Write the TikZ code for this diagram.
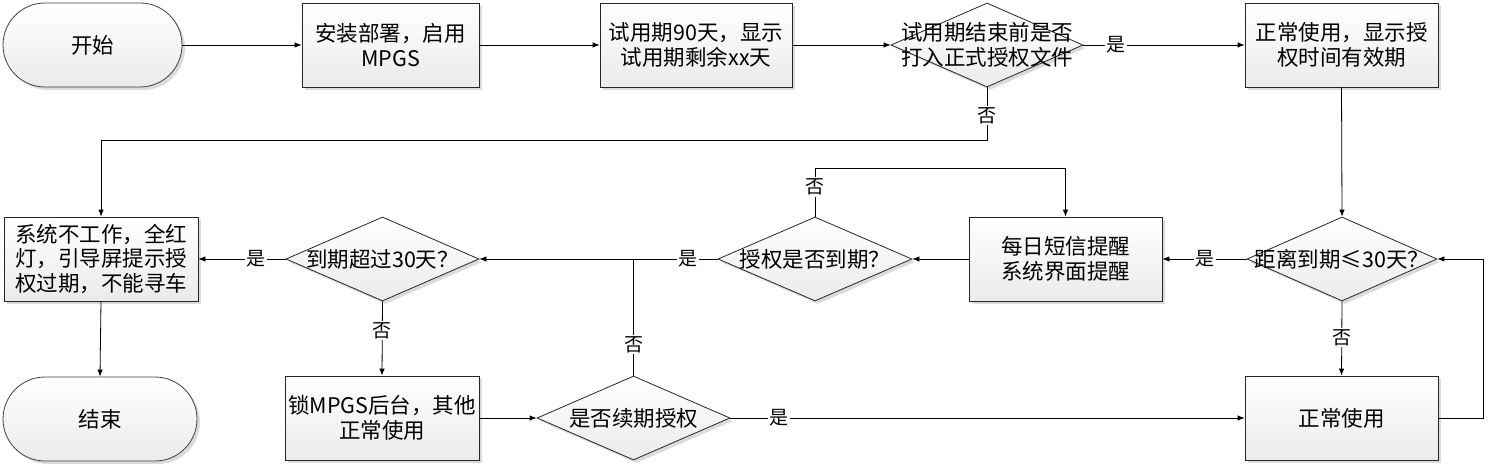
\documentclass[tikz,border=0pt]{standalone}
\usepackage{fontspec}
\setmainfont{Noto Sans CJK SC}
\usetikzlibrary{shapes.geometric,shapes.misc,shadows,arrows.meta}
\newcommand\myfs{\fontsize{21.5}{24.5}\selectfont}
\newcommand\mylblfs{\fontsize{19}{20}\selectfont}
\begin{document}
\begin{tikzpicture}[x=1pt,y=-1pt,
  shd/.style={drop shadow={shadow xshift=3pt,shadow yshift=-3pt,fill=black!14,opacity=1}},
  fillgrad/.style={top color=white,bottom color=black!8},
  box/.style={rectangle,draw=black!85,line width=0.8pt,fillgrad,shd,minimum height=84pt,inner sep=0pt,align=center,font=\myfs},
  term/.style={rounded rectangle,draw=black!75,line width=0.8pt,fillgrad,shd,minimum height=84pt,inner sep=0pt,font=\myfs},
  dia/.style={diamond,draw=black!85,line width=0.8pt,fillgrad,shd,minimum height=84pt,inner sep=0pt},
  dtxt/.style={align=center,font=\myfs,inner sep=0pt},
  arr/.style={draw,line width=0.8pt,-{Latex[length=7pt,width=5.5pt]}},
  ln/.style={draw,line width=0.8pt},
  lbl/.style={fill=white,inner sep=1.5pt,font=\mylblfs}]
\useasboundingbox (0,0) rectangle (1493,465);
% top row
\node[term,minimum width=179pt] (start) at (92.5,45) {开始};
\node[box,minimum width=177pt] (b1) at (390.5,45) {安装部署，启用\\MPGS};
\node[box,minimum width=192pt] (b2) at (696,45) {试用期90天，显示\\试用期剩余xx天};
\node[dia,minimum width=192pt] (d1) at (987,45) {};
\node[dtxt] (t1) at (d1.center) {试用期结束前是否\\打入正式授权文件};
\node[box,minimum width=193pt] (b3) at (1341.5,45) {正常使用，显示授\\权时间有效期};
% middle row
\node[box,minimum width=194pt] (b4) at (101,259) {系统不工作，全红\\灯，引导屏提示授\\权过期，不能寻车};
\node[dia,minimum width=193pt] (d2) at (382.5,259) {};
\node[dtxt] (t2) at (d2.center) {到期超过30天？};
\node[dia,minimum width=194pt] (d3) at (815,259) {};
\node[dtxt] (t3) at (d3.center) {授权是否到期？};
\node[box,minimum width=193pt] (b5) at (1065.5,259) {每日短信提醒\\系统界面提醒};
\node[dia,minimum width=190pt] (d5) at (1342,259) {};
\node[dtxt] (t5) at (d5.center) {距离到期≤30天？};
% bottom row
\node[term,minimum width=194pt] (end) at (100,419) {结束};
\node[box,minimum width=194pt] (b6) at (382,418) {锁MPGS后台，其他\\正常使用};
\node[dia,minimum width=193pt] (d4) at (633.5,418) {};
\node[dtxt] (t4) at (d4.center) {是否续期授权};
\node[box,minimum width=193pt] (b7) at (1341.5,418) {正常使用};
% connectors
\draw[arr] (start.east) -- (b1.west);
\draw[arr] (b1.east) -- (b2.west);
\draw[arr] (b2.east) -- (d1.west);
\draw[arr] (d1.east) -- node[lbl,pos=0.2]{是} (b3.west);
\draw[arr] (d1.south) -- node[lbl,pos=0.53]{否} ++(0,53) -| (b4.north);
\draw[arr] (b3.south) -- (d5.north);
\draw[arr] (d5.west) -- node[lbl,pos=0.49]{是} (b5.east);
\draw[arr] (d5.south) -- node[lbl,pos=0.49]{否} (b7.north);
\draw[arr] (b7.east) -- ++(45,0) |- (d5.east);
\draw[arr] (b5.west) -- (d3.east);
\draw[arr] (d3.north) -- node[lbl,pos=0.62]{否} ++(0,-48) -| (b5.north);
\draw[arr] (d3.west) -- node[lbl,pos=0.125]{是} (d2.east);
\coordinate (j) at (d4.north |- d3.west);
\draw[ln] (d4.north) -- node[lbl,pos=0.265]{否} (j);
\draw[arr] (d2.west) -- node[lbl,pos=0.34]{是} (b4.east);
\draw[arr] (d2.south) -- node[lbl,pos=0.39]{否} (b6.north);
\draw[arr] (b4.south) -- (end.north);
\draw[arr] (b6.east) -- (d4.west);
\draw[arr] (d4.east) -- node[lbl,pos=0.095]{是} (b7.west);
\end{tikzpicture}
\end{document}
